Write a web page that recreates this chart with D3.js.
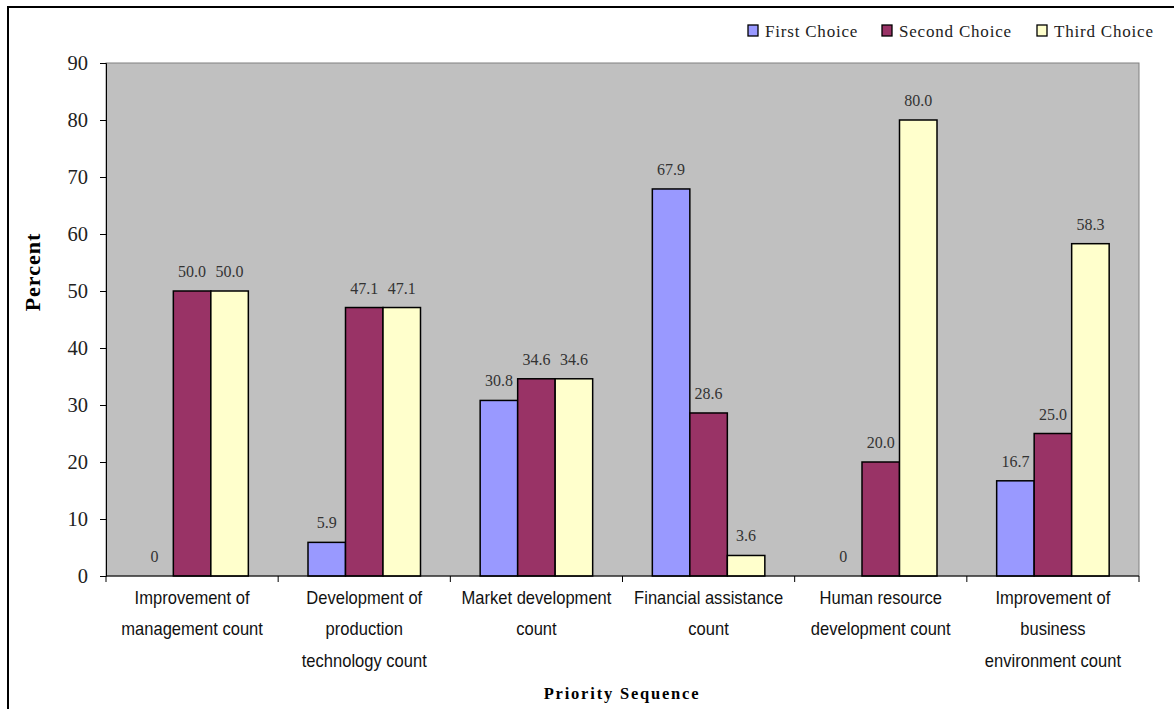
<!DOCTYPE html>
<html>
<head>
<meta charset="utf-8">
<script src="https://cdn.jsdelivr.net/npm/d3@7"></script>
<style>
  html, body { margin: 0; padding: 0; background: #fff; }
  svg { display: block; }
</style>
</head>
<body>
<svg id="chart" width="1174" height="709"></svg>
<script>
// Priority categories (each label split over lines)
const categories = [
  ["Improvement of", "management count"],
  ["Development of", "production", "technology count"],
  ["Market development", "count"],
  ["Financial assistance", "count"],
  ["Human resource", "development count"],
  ["Improvement of", "business", "environment count"]
];
const seriesNames = ["First Choice", "Second Choice", "Third Choice"];
const firstChoice  = [0, 5.9, 30.8, 67.9, 0, 16.7];
const secondChoice = [50.0, 47.1, 34.6, 28.6, 20.0, 25.0];
const thirdChoice  = [50.0, 47.1, 34.6, 3.6, 80.0, 58.3];
const yTicks = [0, 10, 20, 30, 40, 50, 60, 70, 80, 90];
const colors = ["#9999FF", "#993366", "#FFFFCC"];

const series = [firstChoice, secondChoice, thirdChoice];
const serif = "'Liberation Serif', 'DejaVu Serif', serif";
const sans = "'Liberation Sans', Arial, sans-serif";

const svg = d3.select("#chart");
const plot = { left: 106, right: 1139, top: 63, bottom: 576 };

// Outer frame: left and top edges
svg.append("line").attr("x1", 8).attr("x2", 8).attr("y1", 7).attr("y2", 709)
  .attr("stroke", "#000").attr("stroke-width", 2);
svg.append("line").attr("x1", 7).attr("x2", 1174).attr("y1", 7).attr("y2", 7)
  .attr("stroke", "#000").attr("stroke-width", 2);

const x0 = d3.scaleBand().domain(d3.range(categories.length))
  .range([plot.left, plot.right]).paddingInner(0).paddingOuter(0);
const groupWidth = 112.5;
const x1 = d3.scaleBand().domain(d3.range(series.length))
  .range([0, groupWidth]).padding(0);
const y = d3.scaleLinear().domain([0, 90]).range([plot.bottom, plot.top]);

// Plot background
svg.append("rect")
  .attr("x", plot.left).attr("y", plot.top)
  .attr("width", plot.right - plot.left).attr("height", plot.bottom - plot.top)
  .attr("fill", "#C0C0C0").attr("stroke", "#808080").attr("stroke-width", 1);

// Bars
const groups = svg.append("g").selectAll("g")
  .data(categories.map((c, i) => i))
  .join("g")
  .attr("transform", i => `translate(${x0(i) + (x0.bandwidth() - groupWidth) / 2},0)`);

groups.selectAll("rect")
  .data(i => series.map((s, k) => ({ k, v: s[i] })))
  .join("rect")
  .filter(d => d.v > 0)
  .attr("x", d => x1(d.k))
  .attr("y", d => y(d.v))
  .attr("width", x1.bandwidth())
  .attr("height", d => y(0) - y(d.v))
  .attr("fill", d => colors[d.k])
  .attr("stroke", "#000").attr("stroke-width", 1.5);

// Value labels
groups.selectAll("text")
  .data(i => series.map((s, k) => ({ k, v: s[i] })))
  .join("text")
  .attr("x", d => x1(d.k) + x1.bandwidth() / 2)
  .attr("y", d => y(d.v) - 14)
  .attr("text-anchor", "middle")
  .attr("font-family", serif).attr("font-size", 16).attr("fill", "#333")
  .text(d => d.v === 0 ? "0" : d.v.toFixed(1));

// Y axis
const yAxis = d3.axisLeft(y).tickValues(yTicks).tickSize(6).tickPadding(12);
const ya = svg.append("g").attr("transform", `translate(${plot.left},0)`).call(yAxis);
ya.select(".domain").attr("stroke", "#000");
ya.selectAll(".tick line").attr("stroke", "#000");
ya.selectAll(".tick text").attr("font-family", serif).attr("font-size", 20.5).attr("fill", "#222");

// X axis (ticks at category boundaries)
svg.append("line").attr("x1", plot.left).attr("x2", plot.right)
  .attr("y1", plot.bottom).attr("y2", plot.bottom).attr("stroke", "#000");
const bounds = d3.range(categories.length + 1).map(i => i < categories.length ? x0(i) : plot.right);
svg.append("g").selectAll("line").data(bounds).join("line")
  .attr("x1", d => d).attr("x2", d => d)
  .attr("y1", plot.bottom).attr("y2", plot.bottom + 6)
  .attr("stroke", "#000");

// Category labels (lightly condensed sans)
const catText = svg.append("g").selectAll("text")
  .data(categories)
  .join("text")
  .attr("transform", (d, i) => `translate(${x0(i) + x0.bandwidth() / 2},604) scale(0.92,1)`)
  .attr("x", 0).attr("y", 0)
  .attr("text-anchor", "middle")
  .attr("font-family", sans).attr("font-size", 18).attr("fill", "#111");
catText.selectAll("tspan").data(d => d).join("tspan")
  .attr("x", 0)
  .attr("dy", (d, j) => j === 0 ? 0 : 31.5)
  .text(d => d);

// Axis titles
svg.append("text")
  .attr("transform", "translate(40,272) rotate(-90)")
  .attr("text-anchor", "middle")
  .attr("font-family", serif).attr("font-size", 22).attr("font-weight", "bold")
  .attr("letter-spacing", 1)
  .text("Percent");
svg.append("text")
  .attr("x", 622).attr("y", 699)
  .attr("text-anchor", "middle")
  .attr("font-family", serif).attr("font-size", 16.5).attr("font-weight", "bold")
  .attr("letter-spacing", 1.8)
  .text("Priority Sequence");

// Legend
const legendX = [748, 882, 1037];
const legend = svg.append("g").selectAll("g").data(seriesNames).join("g")
  .attr("transform", (d, i) => `translate(${legendX[i]},25)`);
legend.append("rect").attr("x", 0).attr("y", 0).attr("width", 10).attr("height", 11)
  .attr("fill", (d, i) => colors[i]).attr("stroke", "#000").attr("stroke-width", 1.3);
legend.append("text").attr("x", 17).attr("y", 12)
  .attr("font-family", serif).attr("font-size", 17).attr("fill", "#222")
  .attr("letter-spacing", 0.8)
  .text(d => d);
</script>
</body>
</html>
